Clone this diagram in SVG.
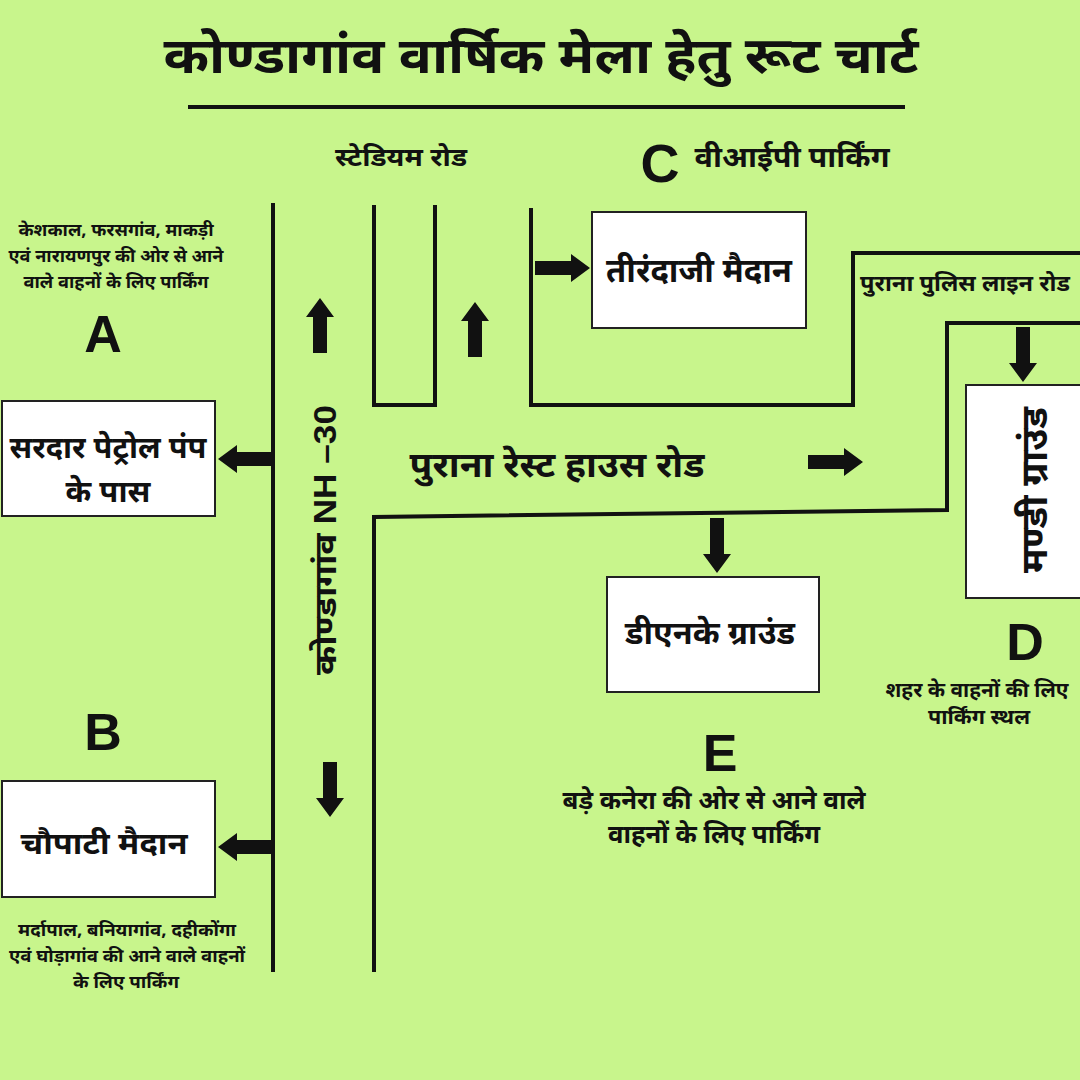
<svg xmlns="http://www.w3.org/2000/svg" width="1080" height="1080" viewBox="0 0 1080 1080">
<defs>
<style>
text{font-family:"Noto Sans","Noto Sans Devanagari","Lohit Devanagari","Mukta",sans-serif;font-weight:bold;fill:#111;text-anchor:middle}
.road{fill:none;stroke:#111;stroke-width:4;stroke-linecap:square}
.box{fill:#fff;stroke:#222;stroke-width:2}
.lat{font-family:"Liberation Sans",Arial,sans-serif;font-weight:bold}
</style>
<path id="arr" d="M0,-7 H36 V-14 L55,0 L36,14 V7 H0 Z" fill="#111"/>
</defs>
<rect width="1080" height="1080" fill="#c8f58c"/>
<g id="title">
<text x="541" y="73" font-size="50" textLength="755" lengthAdjust="spacingAndGlyphs">कोण्डागांव वार्षिक मेला हेतु रूट चार्ट</text>
<line x1="188" y1="107" x2="905" y2="107" stroke="#111" stroke-width="4"/>
</g>
<g id="connectors">
<path class="road" d="M273,205 V970"/>
<path class="road" d="M374,207 V405 H435 V207"/>
<path class="road" d="M531,210 V405 H853 V253 H1080"/>
<path class="road" d="M1080,323 H947 V510 L374,517 V970"/>
<use href="#arr" transform="translate(273,459) rotate(180)"/>
<use href="#arr" transform="translate(273,847) rotate(180)"/>
<use href="#arr" transform="translate(320,353) rotate(-90)"/>
<use href="#arr" transform="translate(330,762) rotate(90)"/>
<use href="#arr" transform="translate(475,357) rotate(-90)"/>
<use href="#arr" transform="translate(535,268)"/>
<use href="#arr" transform="translate(808,462)"/>
<use href="#arr" transform="translate(717,518) rotate(90)"/>
<use href="#arr" transform="translate(1023,327) rotate(90)"/>
</g>
<g id="label-stadium"><text x="401" y="166" font-size="25" textLength="132" lengthAdjust="spacingAndGlyphs">स्टेडियम रोड</text></g>
<g id="label-c"><text x="660" y="182" font-size="54" class="lat">C</text><text x="792" y="167" font-size="28" textLength="195" lengthAdjust="spacingAndGlyphs">वीआईपी  पार्किंग</text></g>
<g id="label-a-desc">
<text x="116" y="236" font-size="17" textLength="195" lengthAdjust="spacingAndGlyphs">केशकाल, फरसगांव, माकड़ी</text>
<text x="116" y="262" font-size="17" textLength="215" lengthAdjust="spacingAndGlyphs">एवं नारायणपुर की ओर से आने</text>
<text x="116" y="288" font-size="17" textLength="185" lengthAdjust="spacingAndGlyphs">वाले वाहनों के लिए पार्किंग</text>
</g>
<g id="label-a"><text x="103" y="352" font-size="52" class="lat">A</text></g>
<g id="node-sardar">
<rect class="box" x="2" y="401" width="213" height="115"/>
<text x="108" y="458" font-size="31" textLength="197" lengthAdjust="spacingAndGlyphs">सरदार पेट्रोल पंप</text>
<text x="108" y="502" font-size="31">के पास</text>
</g>
<g id="label-b"><text x="103" y="750" font-size="52" class="lat">B</text></g>
<g id="node-chaupati">
<rect class="box" x="2" y="781" width="213" height="116"/>
<text x="104" y="854" font-size="31" textLength="167" lengthAdjust="spacingAndGlyphs">चौपाटी मैदान</text>
</g>
<g id="label-b-desc">
<text x="127" y="936" font-size="18" textLength="218" lengthAdjust="spacingAndGlyphs">मर्दापाल, बनियागांव, दहीकोंगा</text>
<text x="127" y="962" font-size="18" textLength="236" lengthAdjust="spacingAndGlyphs">एवं घोड़ागांव की आने वाले वाहनों</text>
<text x="126" y="988" font-size="18" textLength="106" lengthAdjust="spacingAndGlyphs">के लिए पार्किंग</text>
</g>
<g id="label-nh30"><text transform="translate(336,540) rotate(-90)" font-size="31" textLength="270" lengthAdjust="spacingAndGlyphs">कोण्डागांव <tspan class="lat">NH –30</tspan></text></g>
<g id="node-tirandaji">
<rect class="box" x="592" y="212" width="214" height="116"/>
<text x="699" y="282" font-size="33" textLength="186" lengthAdjust="spacingAndGlyphs">तीरंदाजी मैदान</text>
</g>
<g id="label-police"><text x="965" y="291" font-size="22" textLength="210" lengthAdjust="spacingAndGlyphs">पुराना पुलिस लाइन रोड</text></g>
<g id="node-mandi">
<rect class="box" x="966" y="385" width="120" height="213"/>
<text transform="translate(1047,490) rotate(-90)" font-size="37" textLength="166" lengthAdjust="spacingAndGlyphs">मण्डी ग्राउंड</text>
</g>
<g id="label-d"><text x="1025" y="660" font-size="52" class="lat">D</text>
<text x="977" y="697" font-size="20" textLength="183" lengthAdjust="spacingAndGlyphs">शहर के वाहनों की लिए</text>
<text x="979" y="724" font-size="20" textLength="102" lengthAdjust="spacingAndGlyphs">पार्किंग स्थल</text>
</g>
<g id="label-resthouse"><text x="557" y="477" font-size="35" textLength="295" lengthAdjust="spacingAndGlyphs">पुराना रेस्ट हाउस रोड</text></g>
<g id="node-dnk">
<rect class="box" x="607" y="577" width="212" height="115"/>
<text x="710" y="644" font-size="32" textLength="170" lengthAdjust="spacingAndGlyphs">डीएनके ग्राउंड</text>
</g>
<g id="label-e"><text x="720" y="771" font-size="52" class="lat">E</text>
<text x="714" y="809" font-size="25" textLength="303" lengthAdjust="spacingAndGlyphs">बड़े कनेरा की ओर से आने वाले</text>
<text x="714" y="843" font-size="25" textLength="212" lengthAdjust="spacingAndGlyphs">वाहनों के लिए पार्किंग</text>
</g>
</svg>
